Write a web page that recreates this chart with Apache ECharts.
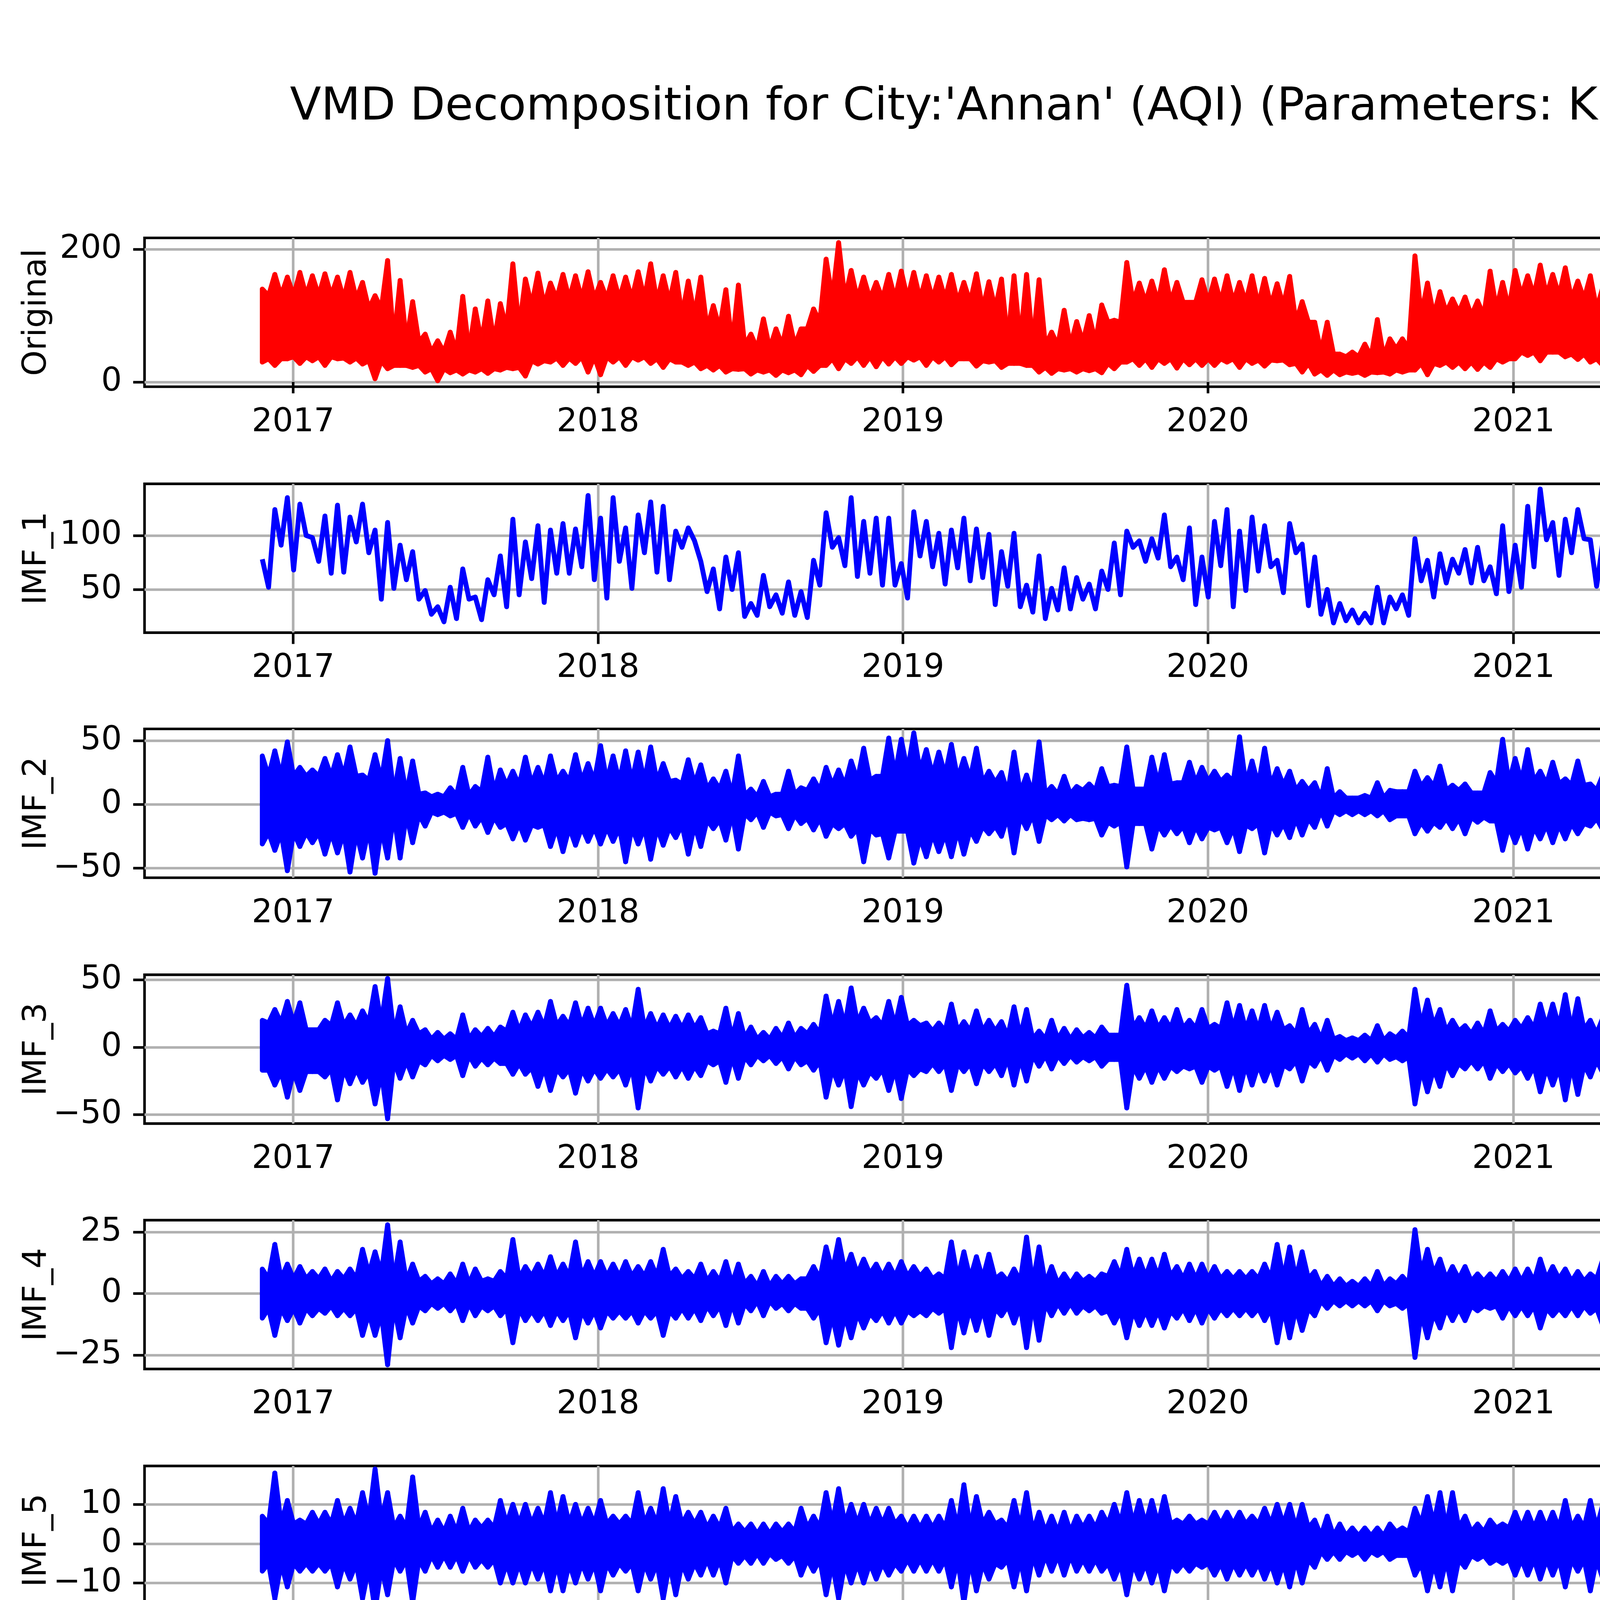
<!DOCTYPE html>
<html><head><meta charset="utf-8">
<script src="https://cdn.jsdelivr.net/npm/echarts@6/dist/echarts.min.js"></script>
<style>html,body{margin:0;padding:0;background:#fff}#c{width:7200px;height:4500px}</style>
</head><body><div id="c"></div>
<script>
// ---------- texts ----------
const titleText = "VMD Decomposition for City:'Annan' (AQI) (Parameters: K=5, alpha=1000, tau=1e-06, tol=1e-05)";
const xLabelText = 'Datetime/hour';
const panelNames = ['Original', 'IMF_1', 'IMF_2', 'IMF_3', 'IMF_4', 'IMF_5'];

// ---------- axes ----------
const yearTicks = [2017, 2018, 2019, 2020, 2021, 2022, 2023, 2024, 2025];
const yTicks = [[0, 200], [50, 100], [-50, 0, 50], [-50, 0, 50], [-25, 0, 25], [-10, 0, 10]];
const yRanges = [[-7.1, 217.1], [10, 147.8], [-57.5, 59.2], [-56.6, 53.8], [-30.7, 29.9], [-18.1, 19.8]];
const xRange = ['2016-07-07', '2025-01-19'];

// ---------- time grid of the read spike values (one node every 15 days) ----------
const seriesStart = '2016-11-25';
const stepDays = 15;
// monthly grid of the read "solid core" of each dense band (Nov 2016 .. Aug 2024)
const coreStartYear = 2016, coreStartMonth = 11;

// ---------- Original (AQI): spike maxima / minima per node ----------
const origHi = [140,162,158,
165,160,163,158,165,150,130,183,153,121,72,62,75,129,110,122,118,178,155,164,149,162,160,166,
150,160,158,166,178,160,165,152,158,115,139,146,72,95,80,99,80,110,185,210,168,158,150,162,
167,165,160,158,162,150,163,151,155,160,162,154,75,108,91,100,116,93,180,149,152,169,150,120,154,
155,160,150,160,156,148,159,121,90,90,42,45,57,94,65,65,190,149,136,125,128,122,167,150,
168,160,176,162,172,152,160,143,136,100,64,97,52,68,74,94,67,103,139,120,143,125,120,148,
156,145,141,149,164,162,148,128,138,116,116,39,64,55,89,77,57,167,112,103,117,156,151,97,123,
160,139,159,159,156,153,105,165,151,116,96,49,68,44,71,59,67,100,80,150,141,114,156,147,
150,160,141,157,143,160,120,108,139,154,118,92,47,78,53,57,68];
const origLo = [30,25,35,
28,32,25,35,30,27,5,20,25,22,15,2,14,12,15,13,18,20,9,27,30,25,28,15,
11,30,25,33,28,22,30,25,20,18,15,19,12,15,10,14,11,16,25,20,28,25,23,27,
28,33,25,30,26,35,24,30,22,28,25,15,13,18,15,17,14,20,30,25,22,28,21,26,25,
25,30,22,28,24,32,26,15,12,10,11,13,10,14,12,15,18,11,25,22,20,19,22,30,
35,40,32,45,38,34,30,25,20,12,10,13,8,11,9,7,12,20,25,18,22,20,25,22,
25,30,28,24,33,27,30,22,25,10,8,5,9,7,10,8,11,20,17,22,18,25,20,17,24,
28,25,32,22,30,26,20,24,22,18,12,8,9,7,10,8,11,15,20,24,19,22,20,25,
22,15,28,20,25,23,18,20,22,16,18,12,10,14,11,15,20];
// Original: top / bottom of the solid core, per month
const origCoreHi = [110,130,
130,130,125,110,60,45,45,60,80,115,125,125,
125,125,120,100,80,55,50,55,90,125,125,125,
125,125,120,110,60,55,55,60,90,120,120,120,
120,120,115,90,45,38,38,50,100,105,100,110,
130,130,125,110,50,45,45,55,85,95,100,105,
110,115,110,85,40,35,35,45,80,85,90,105,
110,115,110,100,50,40,40,45,70,90,100,105,
110,110,100,85,70,40,38,40];
const origCoreLo = [35,35,
38,38,36,32,25,20,18,20,22,32,36,38,
38,38,35,30,25,20,18,18,25,35,38,38,
38,38,35,32,25,22,20,20,28,35,35,35,
35,35,33,28,18,15,15,18,28,30,30,35,
45,45,42,35,18,15,15,18,25,28,28,32,
35,35,35,28,15,12,12,15,25,28,30,32,
35,35,33,30,18,14,14,16,22,28,30,32,
32,32,30,28,22,15,15,16];

// ---------- IMF_1: local max / local min per node ----------
const imf1Hi = [78,124,135,129,98,118,128,117,129,105, 112,91,85,49,34,52,69,43,59,81,
115,94,109,105,111,106,137,116,135,107, 119,131,127,104,107,76,69,80,84,37,
63,45,57,48,77,121,98,135,113,116, 116,74,122,113,102,105,116,106,101,85,
102,54,81,51,70,61,55,67,93,104, 95,97,119,80,107,80,113,124,104,117,
109,77,111,92,80,50,37,31,28,52, 43,45,97,77,83,78,87,89,71,109,
91,127,143,112,115,124,96,94,80,43, 32,49,32,34,41,27,50,58,78,61,
85,72,71,103,83,101,85,93,119,100, 91,92,52,69,70,38,39,30,36,47,
44,96,69,66,71,102,85,50,83,122, 93,116,115,102,81,105,88,87,62,36,
44,34,32,36,40,36,59,54,120,92, 84,103,81,110,92,120,81,84,119,81,
71,87,87,59,36,32,41,41,35,47];
const imf1Lo = [52,91,68,100,76,65,66,94,84,41, 51,59,41,27,20,23,41,22,45,34,
45,60,38,65,65,71,59,42,76,51, 84,66,59,89,95,48,32,50,25,26,
34,28,26,24,54,89,72,62,65,54, 54,42,81,71,55,70,58,61,36,53,
34,29,23,31,32,41,32,50,45,89, 76,79,71,59,36,43,72,34,49,67,
71,47,84,35,27,19,21,19,19,19, 32,26,58,43,56,65,56,58,46,48,
52,71,96,63,84,97,53,71,40,28, 24,23,21,21,28,16,27,28,37,36,
49,50,56,65,50,57,45,48,43,59, 48,49,26,27,15,17,21,17,18,24,
24,54,48,36,52,45,45,41,45,52, 49,58,63,72,54,59,66,34,37,24,
16,24,22,30,17,21,40,45,50,49, 69,50,43,79,44,71,40,54,54,54,
49,40,65,24,19,18,30,27,24,39];

// ---------- IMF_2 ----------
const imf2Hi = [38,42,49,29,27,36,39,45,23,39, 50,36,34,9,8,13,29,14,37,27,
26,37,29,38,26,39,32,46,38,42, 41,45,32,19,35,31,20,26,38,12,
18,8,26,13,20,29,27,34,44,22, 52,51,56,43,41,47,36,44,26,25,
41,23,49,14,22,14,16,28,15,45, 12,37,39,17,33,29,26,23,53,34,
44,28,26,18,17,28,10,5,7,17, 11,10,26,21,30,15,16,9,25,51,
36,43,26,33,20,34,16,23,21,10, 8,17,10,8,18,26,15,32,25,21,
35,27,26,29,28,33,25,17,30,37, 29,20,20,18,17,15,8,8,12,18,
15,37,10,15,23,28,43,24,20,31, 32,27,29,29,27,52,12,31,26,11,
18,12,20,11,16,15,12,14,20,20, 18,18,29,32,23,39,28,26,28,17,
12,32,28,19,7,9,12,10,9,10];
const imf2Lo = [-31,-36,-52,-33,-30,-39,-38,-53,-42,-54, -42,-42,-30,-17,-8,-9,-18,-17,-22,-18,
-27,-28,-18,-33,-37,-32,-29,-31,-29,-45, -31,-43,-32,-26,-39,-33,-19,-28,-35,-12,
-18,-9,-19,-15,-20,-25,-19,-25,-45,-24, -42,-21,-46,-41,-37,-41,-39,-29,-23,-25,
-38,-19,-29,-12,-13,-12,-12,-24,-17,-49, -15,-35,-24,-23,-30,-27,-20,-30,-37,-19,
-38,-24,-26,-24,-18,-17,-8,-8,-8,-9, -12,-9,-23,-21,-18,-19,-23,-14,-13,-36,
-30,-35,-27,-30,-27,-23,-17,-20,-26,-11, -8,-11,-8,-9,-18,-18,-9,-20,-16,-29,
-19,-18,-24,-29,-28,-30,-20,-33,-38,-29, -18,-14,-20,-13,-17,-8,-9,-8,-12,-11,
-9,-29,-19,-12,-16,-16,-31,-14,-18,-33, -26,-20,-27,-15,-19,-39,-21,-21,-32,-7,
-8,-10,-12,-10,-11,-12,-10,-11,-20,-18, -20,-19,-23,-26,-33,-27,-19,-21,-27,-16,
-16,-26,-26,-16,-9,-8,-12,-8,-9,-13];
const imf2Core = [20,22,
22,22,22,19,8,6,7,10,15,16,18,18,
18,18,18,16,12,7,6,8,11,15,19,23,
26,23,20,17,9,8,8,11,14,16,16,17,
18,16,15,11,5,5,5,10,14,11,10,17,
18,16,15,11,5,5,7,11,14,14,15,16,
16,17,17,11,5,5,5,9,12,12,14,15,
16,16,16,13,7,6,6,7,11,12,13,14,
15,15,14,13,9,5,5,5];

// ---------- IMF_3 ----------
const imf3Hi = [20,28,34,33,13,20,33,24,27,45, 51,30,20,13,11,10,24,13,14,15,
26,24,26,34,23,33,29,29,25,28, 43,25,24,23,24,22,12,29,25,15,
11,14,18,14,17,38,34,44,29,22, 34,37,20,18,18,32,19,27,20,19,
30,28,12,20,14,13,11,15,9,46, 22,27,22,28,20,28,17,33,31,27,
31,26,16,28,17,20,8,7,9,16, 10,12,43,35,28,20,16,18,27,17,
20,22,32,32,39,36,20,22,25,12, 11,19,10,13,12,19,11,18,24,18,
26,20,18,20,24,19,22,18,25,34, 29,23,27,25,18,7,13,12,13,8,
9,29,20,22,27,20,36,18,27,15, 27,26,24,30,20,16,18,22,31,16,
13,8,12,14,13,20,20,18,22,29, 24,35,26,22,28,24,28,22,24,22,
18,20,30,20,9,8,13,9,9,10];
const imf3Lo = [-17,-28,-37,-32,-18,-22,-39,-27,-26,-42, -53,-23,-22,-13,-10,-9,-21,-14,-13,-12,
-20,-20,-29,-32,-22,-34,-25,-23,-22,-28, -45,-25,-20,-22,-23,-21,-13,-26,-23,-13,
-10,-12,-16,-13,-17,-37,-28,-44,-28,-23, -32,-38,-21,-18,-18,-32,-18,-27,-18,-21,
-28,-25,-14,-16,-12,-11,-10,-14,-9,-45, -23,-26,-23,-18,-16,-26,-17,-29,-32,-28,
-25,-28,-16,-25,-14,-17,-9,-8,-10,-11, -9,-10,-42,-33,-29,-21,-16,-16,-23,-18,
-19,-23,-33,-28,-39,-35,-22,-19,-20,-12, -10,-16,-9,-11,-10,-16,-12,-15,-20,-18,
-26,-16,-18,-20,-18,-21,-17,-17,-22,-33, -23,-22,-29,-23,-20,-8,-14,-9,-12,-8,
-9,-28,-22,-19,-25,-23,-32,-21,-22,-18, -20,-26,-23,-29,-20,-18,-20,-21,-29,-16,
-13,-7,-11,-10,-9,-17,-17,-17,-23,-26, -20,-35,-23,-19,-27,-23,-25,-21,-25,-22,
-18,-20,-25,-17,-7,-7,-13,-9,-9,-12];
const imf3Core = [15,18,
18,16,16,18,10,6,6,8,12,15,16,16,
16,14,14,14,10,7,6,7,10,16,18,16,
16,12,12,12,8,6,6,7,12,14,14,14,
14,13,13,10,6,5,5,7,16,12,10,12,
14,15,13,10,6,5,6,8,11,11,12,12,
12,13,14,12,5,4,4,5,12,13,13,14,
14,14,13,12,7,5,5,6,9,11,12,13,
14,14,13,12,9,5,5,5];

// ---------- IMF_4 ----------
const imf4Hi = [10,20,12,11,9,10,9,10,18,17, 28,21,12,7,6,8,12,10,6,9,
22,11,12,15,12,21,13,13,12,13, 11,13,18,10,9,12,9,13,12,7,
9,7,7,6,11,19,22,16,14,12, 12,13,11,10,8,21,17,15,16,8,
10,23,19,11,8,8,7,8,13,18, 14,14,16,11,12,12,11,9,9,9,
12,20,19,17,9,7,6,5,6,9, 6,7,26,18,14,11,11,8,8,9,
10,10,14,11,10,9,8,14,17,5, 5,12,6,5,6,5,5,5,15,15,
15,12,8,10,13,8,7,9,9,12, 8,9,9,9,11,5,6,5,9,5,
5,17,12,9,9,9,9,9,9,12, 10,11,12,16,9,15,9,11,13,5,
6,6,7,5,7,6,14,11,10,12, 10,10,9,11,11,9,9,14,14,5,
5,19,20,7,9,4,4,7,4,4];
const imf4Lo = [-10,-17,-11,-12,-9,-8,-9,-9,-17,-17, -29,-18,-12,-7,-6,-7,-11,-9,-7,-9,
-20,-11,-11,-13,-11,-18,-12,-14,-10,-10, -12,-10,-17,-10,-10,-11,-9,-13,-12,-7,
-9,-6,-7,-6,-10,-20,-21,-18,-14,-11, -12,-12,-9,-9,-8,-22,-16,-15,-17,-9,
-12,-22,-19,-9,-8,-8,-7,-8,-12,-18, -13,-13,-14,-10,-11,-12,-10,-9,-9,-9,
-11,-20,-18,-15,-9,-6,-5,-5,-5,-7, -5,-6,-26,-18,-14,-11,-11,-7,-6,-10,
-9,-9,-14,-9,-9,-9,-8,-13,-17,-4, -4,-11,-5,-4,-5,-4,-5,-5,-14,-14,
-14,-10,-10,-9,-12,-8,-6,-8,-9,-10, -8,-9,-9,-9,-9,-4,-5,-4,-8,-5,
-5,-16,-12,-9,-9,-9,-9,-8,-9,-10, -10,-12,-12,-16,-9,-14,-9,-10,-12,-5,
-5,-5,-6,-5,-6,-5,-12,-10,-10,-10, -10,-9,-9,-11,-12,-9,-9,-13,-12,-5,
-5,-18,-19,-7,-8,-4,-4,-6,-4,-4];
const imf4Core = [6,6,
6,5,6,8,5,4,4,5,6,7,7,7,
7,7,7,6,5,4,3,4,6,9,8,7,
7,6,6,6,5,4,4,5,7,7,7,6,
6,6,6,6,3,3,3,4,8,6,5,5,
5,6,5,6,3,3,3,4,6,6,5,5,
5,5,5,5,4,3,3,3,5,5,5,5,
6,6,6,6,5,3,3,3,4,6,6,6,
6,6,5,5,8,3,3,3];

// ---------- IMF_5 ----------
const imf5Hi = [7,18,11,6,8,8,11,9,13,19, 13,7,17,8,6,7,9,6,6,11,
10,10,9,13,12,10,9,11,7,7, 13,9,14,12,8,8,7,9,5,5,
5,5,5,9,7,13,14,10,10,9, 9,7,7,7,7,11,15,12,8,6,
11,13,8,7,8,7,7,8,10,13, 11,11,12,6,7,6,8,8,8,7,
9,10,10,10,6,7,5,4,4,4, 5,4,9,12,13,13,7,5,6,5,
8,8,8,8,11,7,11,10,7,4, 4,10,3,5,6,6,6,4,9,10,
11,8,6,9,9,5,5,6,8,10, 6,10,8,10,3,3,3,3,9,5,
5,8,9,10,10,8,6,6,6,8, 8,7,10,10,8,6,7,9,6,4,
4,4,5,4,4,5,8,7,9,10, 11,11,8,11,7,7,5,7,11,5,
6,8,10,7,4,3,6,3,3,3];
const imf5Lo = [-7,-14,-11,-7,-7,-7,-11,-9,-14,-17, -13,-7,-15,-7,-6,-6,-7,-6,-6,-10,
-10,-10,-9,-12,-12,-10,-9,-12,-8,-7, -12,-9,-14,-13,-9,-8,-8,-10,-5,-5,
-5,-4,-5,-8,-7,-13,-14,-10,-10,-9, -8,-7,-7,-7,-7,-11,-15,-12,-9,-6,
-11,-12,-8,-7,-8,-7,-7,-7,-9,-13, -9,-10,-12,-7,-7,-6,-8,-9,-8,-8,
-9,-10,-11,-10,-6,-4,-4,-3,-4,-3, -4,-3,-8,-12,-11,-12,-6,-4,-5,-5,
-8,-8,-9,-8,-11,-7,-12,-9,-8,-4, -4,-9,-3,-5,-5,-5,-5,-4,-9,-10,
-11,-7,-6,-9,-9,-4,-5,-6,-8,-10, -5,-10,-9,-10,-3,-3,-3,-3,-7,-3,
-3,-9,-9,-9,-9,-9,-6,-5,-6,-9, -8,-7,-10,-10,-7,-6,-6,-8,-6,-3,
-3,-4,-5,-4,-3,-5,-8,-6,-9,-10, -11,-11,-8,-12,-7,-6,-5,-7,-10,-6,
-7,-7,-10,-6,-3,-3,-5,-3,-3,-3];
const imf5Core = [4,5,
5,5,5,6,4,3,3,4,5,5,5,5,
5,5,5,5,4,3,2.5,3,4,5,5,5,
4,4,4,5,4,3,3,4,5,5,5,5,
5,5,5,4,2,2,2,3,5,4,3,4,
4,4,4,4,2,2,2,3,4,4,4,4,
4,4,4,4,3,2,2,3,4,4,4,4,
4,4,4,4,3,2,2,2,3,4,4,5,
5,5,4,4,4,2,2,2];

// ---------- build ----------
const FONT = 'DejaVu Sans';
const DAY = 86400000;
const RED = '#ff0000', BLUE = '#0000ff', GRIDC = '#b0b0b0';
const LW = 12.5, THIN = 6.67, TICK_FS = 83.3;
const gridTops = [609, 1238.6, 1866, 2495.4, 3123.6, 3752.8];
const gridH = 381, gridLeft = 370, gridRight = 163;

const t0 = Date.parse(seriesStart + 'T00:00:00Z');
const times = origHi.map((_, i) => t0 + i * stepDays * DAY);
const yearTs = yearTicks.map(y => Date.UTC(y, 0, 1));
const xMin = Date.parse(xRange[0] + 'T00:00:00Z');
const xMax = Date.parse(xRange[1] + 'T00:00:00Z');
function monthIdx(t) {
  const d = new Date(t);
  return (d.getUTCFullYear() - coreStartYear) * 12 + d.getUTCMonth() + 1 - coreStartMonth;
}
const neg = arr => arr.map(v => -v);

const bands = [
  {k: 0, hi: origHi, lo: origLo, cHi: origCoreHi, cLo: origCoreLo, color: RED},
  {k: 2, hi: imf2Hi, lo: imf2Lo, cHi: imf2Core, cLo: neg(imf2Core), color: BLUE},
  {k: 3, hi: imf3Hi, lo: imf3Lo, cHi: imf3Core, cLo: neg(imf3Core), color: BLUE},
  {k: 4, hi: imf4Hi, lo: imf4Lo, cHi: imf4Core, cLo: neg(imf4Core), color: BLUE},
  {k: 5, hi: imf5Hi, lo: imf5Lo, cHi: imf5Core, cLo: neg(imf5Core), color: BLUE}
];

const grids = [], xAxes = [], yAxes = [], series = [];
for (let k = 0; k < 6; k++) {
  grids.push({left: gridLeft, right: gridRight, top: gridTops[k], height: gridH,
    show: true, borderColor: '#000', borderWidth: THIN, backgroundColor: 'rgba(0,0,0,0)'});
  xAxes.push({
    type: 'value', gridIndex: k, min: xMin, max: xMax, scale: true,
    axisLine: {show: false},
    axisTick: {show: true, length: 29, lineStyle: {color: '#000', width: THIN}, customValues: yearTs},
    axisLabel: {show: true, customValues: yearTs, margin: 50, fontSize: TICK_FS, fontFamily: FONT,
      color: '#000', lineHeight: 84, formatter: v => String(new Date(v).getUTCFullYear())},
    splitLine: {show: true, lineStyle: {color: GRIDC, width: THIN}}
  });
  yAxes.push({
    type: 'value', gridIndex: k, min: yRanges[k][0], max: yRanges[k][1],
    name: panelNames[k], nameLocation: 'middle', nameGap: 225, nameRotate: 90, nameMoveOverlap: false,
    nameTextStyle: {fontSize: TICK_FS, fontFamily: FONT, color: '#000', lineHeight: 100},
    axisLine: {show: false},
    axisTick: {show: true, length: 29, lineStyle: {color: '#000', width: THIN}, customValues: yTicks[k]},
    axisLabel: {show: true, customValues: yTicks[k], margin: 58, fontSize: TICK_FS, fontFamily: FONT,
      color: '#000', formatter: v => String(v).replace('-', '\u2212')},
    splitLine: {show: true, lineStyle: {color: GRIDC, width: THIN}}
  });
}

// Dense series: filled band whose edge alternates between the read spike extremes (at each node)
// and the read solid-core level (half-way between nodes).
bands.forEach(b => {
  const n = Math.min(b.hi.length, b.lo.length, times.length);
  const samples = [];
  for (let i = 0; i < n; i++) {
    samples.push([times[i], b.hi[i], b.lo[i]]);
    if (i + 1 < n) {
      const tm = times[i] + (stepDays / 2) * DAY;
      const m = Math.max(0, Math.min(b.cHi.length - 1, monthIdx(tm)));
      const up = Math.min(b.cHi[m], b.hi[i], b.hi[i + 1]);
      const dn = Math.max(b.cLo[m], b.lo[i], b.lo[i + 1]);
      samples.push([tm, up, Math.min(dn, up)]);
    }
  }
  const segs = [];
  for (let j = 0; j + 1 < samples.length; j++) {
    segs.push([samples[j][0], samples[j][1], samples[j][2], samples[j + 1][0], samples[j + 1][1], samples[j + 1][2]]);
  }
  const color = b.color;
  series.push({
    type: 'custom', name: panelNames[b.k], xAxisIndex: b.k, yAxisIndex: b.k,
    data: segs, encode: {x: [0, 3], y: [1, 2, 4, 5]}, z: 3, silent: true,
    renderItem: (params, api) => {
      const p1 = api.coord([api.value(0), api.value(1)]);
      const p2 = api.coord([api.value(3), api.value(4)]);
      const p3 = api.coord([api.value(3), api.value(5)]);
      const p4 = api.coord([api.value(0), api.value(2)]);
      return {type: 'polygon', shape: {points: [p1, p2, p3, p4]},
        style: {fill: color, stroke: color, lineWidth: LW, lineJoin: 'round'}};
    }
  });
});

// IMF_1 as an ordinary line: local max then local min within each node
const imf1Data = [];
for (let i = 0; i < Math.min(imf1Hi.length, imf1Lo.length, times.length); i++) {
  imf1Data.push([times[i], imf1Hi[i]]);
  imf1Data.push([times[i] + (stepDays / 2) * DAY, imf1Lo[i]]);
}
series.push({type: 'line', name: 'IMF_1', xAxisIndex: 1, yAxisIndex: 1, data: imf1Data,
  symbol: 'none', showSymbol: false, lineStyle: {color: BLUE, width: LW, join: 'round'}, z: 3});

const chart = echarts.init(document.getElementById('c'), null, {renderer: 'canvas', width: 7200, height: 4500});
chart.setOption({
  animation: false,
  backgroundColor: '#ffffff',
  title: [
    {text: titleText, left: 'center', top: 206, padding: 0,
      textStyle: {fontSize: 116.7, fontWeight: 'normal', fontFamily: FONT, color: '#000', lineHeight: 140}},
    {text: xLabelText, left: 'center', top: 4360, padding: 0,
      textStyle: {fontSize: 100, fontWeight: 'normal', fontFamily: FONT, color: '#000', lineHeight: 120}}
  ],
  grid: grids,
  xAxis: xAxes,
  yAxis: yAxes,
  series: series
});
</script>
</body></html>
